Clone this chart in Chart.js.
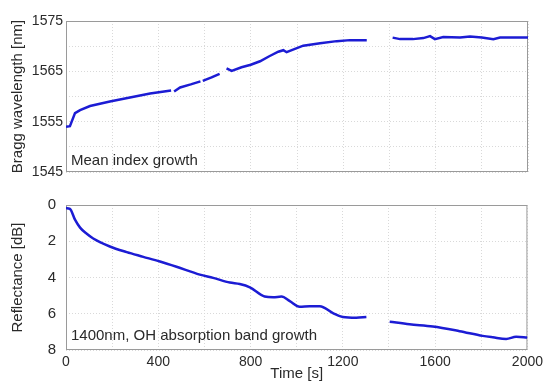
<!DOCTYPE html>
<html>
<head>
<meta charset="utf-8">
<script src="https://cdn.jsdelivr.net/npm/chart.js@4"></script>
<style>
  body { margin: 0; background: #fff; }
  #wrap { position: relative; width: 547px; height: 383px; }
  canvas { position: absolute; left: 0; }
  #top-chart { top: 0; }
  #bottom-chart { top: 186px; }
</style>
</head>
<body>
<div id="wrap">
  <canvas id="top-chart" width="547" height="186"></canvas>
  <canvas id="bottom-chart" width="547" height="197"></canvas>
</div>
<script>
// Bragg wavelength (top panel), null = gap in the trace
const timeTop = [0, 17, 39, 61, 104, 190, 277, 364, 455, 462, 468, 494, 540, 582, 586, 592, 630, 665, 680,
    695, 717, 760, 800, 840, 880, 919, 941, 955, 1027, 1100, 1172, 1229, 1302, 1350,
    1414, 1446, 1502, 1547, 1576, 1597, 1633, 1706, 1749, 1800, 1850, 1879, 2000];
const braggWl = [1554.0, 1554.1, 1556.7, 1557.3, 1558.1, 1559.0, 1559.8, 1560.6, 1561.2, null, 1561.0, 1561.8, 1562.4, 1563.0, null, 1563.1, 1563.8, 1564.5, null,
    1565.6, 1565.1, 1565.8, 1566.3, 1567.0, 1568.0, 1568.9, 1569.2, 1568.8, 1570.1, 1570.6, 1571.0, 1571.2, 1571.2, null,
    1571.7, 1571.4, 1571.4, 1571.6, 1572.0, 1571.4, 1571.8, 1571.7, 1571.9, 1571.7, 1571.4, 1571.7, 1571.7];

// Reflectance (bottom panel)
const timeBottom = [0, 17, 39, 61, 90, 118, 190, 263, 335, 407, 479, 580, 638, 710, 753, 797, 861, 898, 934, 970,
    1013, 1056, 1100, 1157, 1200, 1258, 1302, 1350, 1403, 1489, 1590, 1706, 1806, 1850, 1908, 1951, 2000];
const reflectance = [0.17, 0.21, 0.81, 1.25, 1.59, 1.85, 2.29, 2.6, 2.86, 3.12, 3.41, 3.84, 4.02, 4.28, 4.36, 4.54, 5.05, 5.09, 5.05, 5.3,
    5.61, 5.58, 5.58, 5.96, 6.18, 6.22, 6.18, null, 6.44, 6.58, 6.7, 6.96, 7.22, 7.3, 7.39, 7.27, 7.31];

const xTicksShown = [0, 400, 800, 1200, 1600, 2000];
const wlTicksShown = [1545, 1555, 1565, 1575];

const FONT = '"Liberation Sans", Arial, sans-serif';
const TEXT = '#2a2a2a';
const LINE = '#1c1cd4';
const GRID = '#d9d9d9';
const FRAME = '#9a9a9a';

function toPoints(xs, ys) {
    return xs.map((x, i) => ({ x: x, y: ys[i] }));
}

// frame around plot area + label text inside
function panelPlugin(label, labelY) {
    return {
        id: 'panel',
        beforeDatasetsDraw(chart) {
            const a = chart.chartArea, ctx = chart.ctx;
            ctx.save();
            ctx.strokeStyle = FRAME;
            ctx.lineWidth = 1;
            ctx.strokeRect(a.left + 0.5, a.top + 0.5, a.right - a.left - 1, a.bottom - a.top - 1);
            ctx.restore();
        },
        afterDraw(chart) {
            const ctx = chart.ctx;
            ctx.save();
            ctx.font = '15px ' + FONT;
            ctx.fillStyle = TEXT;
            ctx.textBaseline = 'middle';
            ctx.fillText(label, chart.chartArea.left + 5, labelY);
            ctx.restore();
        }
    };
}

const gridOpts = { color: GRID, drawTicks: false, tickBorderDash: [1, 2] };

new Chart(document.getElementById('top-chart'), {
    type: 'line',
    data: {
        datasets: [{
            data: toPoints(timeTop, braggWl),
            borderColor: LINE,
            borderWidth: 2.5,
            pointRadius: 0,
            spanGaps: false,
            tension: 0
        }]
    },
    options: {
        responsive: false,
        animation: false,
        events: [],
        layout: { padding: { top: 21, right: 19, left: 0, bottom: 0 } },
        plugins: { legend: { display: false }, tooltip: { enabled: false } },
        scales: {
            x: {
                type: 'linear', min: 0, max: 2000,
                ticks: { stepSize: 200, display: false },
                grid: gridOpts,
                border: { display: false, dash: [1, 2] },
                afterFit(s) { s.height = 14; }
            },
            y: {
                min: 1545, max: 1575,
                ticks: {
                    stepSize: 5, padding: 3, color: TEXT, font: { family: FONT, size: 14 },
                    callback: v => wlTicksShown.includes(v) ? v : ''
                },
                grid: gridOpts,
                border: { display: false, dash: [1, 2] },
                title: { display: true, text: 'Bragg wavelength [nm]', color: TEXT, font: { family: FONT, size: 15 }, padding: { top: 9, bottom: 0 } },
                afterFit(s) { s.width = 66; }
            }
        }
    },
    plugins: [panelPlugin('Mean index growth', 161)]
});

new Chart(document.getElementById('bottom-chart'), {
    type: 'line',
    data: {
        datasets: [{
            data: toPoints(timeBottom, reflectance),
            borderColor: LINE,
            borderWidth: 2.5,
            pointRadius: 0,
            spanGaps: false,
            cubicInterpolationMode: 'monotone'
        }]
    },
    options: {
        responsive: false,
        animation: false,
        events: [],
        layout: { padding: { top: 10, right: 19, left: 0, bottom: 0 } },
        plugins: { legend: { display: false }, tooltip: { enabled: false } },
        scales: {
            x: {
                type: 'linear', min: 0, max: 2000,
                ticks: {
                    stepSize: 200, padding: 4, color: TEXT, font: { family: FONT, size: 14 }, maxRotation: 0,
                    callback: v => xTicksShown.includes(v) ? v : ''
                },
                grid: gridOpts,
                border: { display: false, dash: [1, 2] },
                title: { display: true, text: 'Time [s]', color: TEXT, font: { family: FONT, size: 15 }, padding: { top: 0, bottom: 0 } },
                afterFit(s) { s.height = 33; }
            },
            y: {
                min: 0, max: 8, reverse: true,
                ticks: { stepSize: 2, padding: 10, color: TEXT, font: { family: FONT, size: 15 } },
                grid: gridOpts,
                border: { display: false, dash: [1, 2] },
                title: { display: true, text: 'Reflectance [dB]', color: TEXT, font: { family: FONT, size: 15 }, padding: { top: 9, bottom: 0 } },
                afterFit(s) { s.width = 66; }
            }
        }
    },
    plugins: [panelPlugin('1400nm, OH absorption band growth', 150)]
});
</script>
</body>
</html>
